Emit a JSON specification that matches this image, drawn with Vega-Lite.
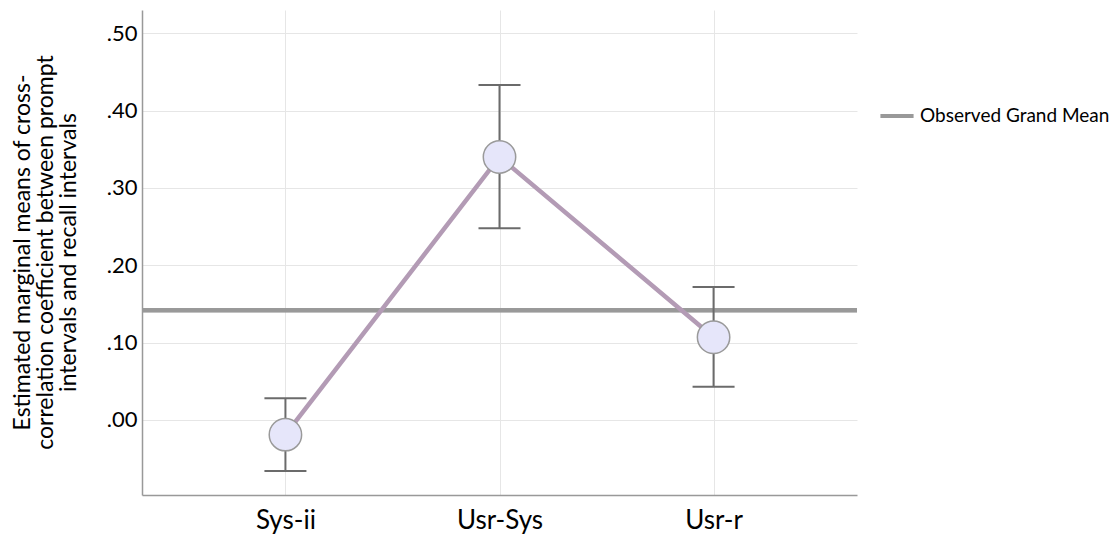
{
  "$schema": "https://vega.github.io/schema/vega-lite/v6.json",
  "width": 715,
  "height": 485,
  "autosize": {"type": "none"},
  "padding": {"left": 142, "top": 10, "right": 263, "bottom": 46},
  "background": "white",
  "config": {
    "font": "Lato",
    "view": {"stroke": null},
    "axis": {
      "labelFont": "Lato",
      "titleFont": "Lato",
      "labelFontSize": 22,
      "labelColor": "#000",
      "titleFontSize": 23,
      "titleFontWeight": "normal",
      "titleColor": "#000",
      "ticks": false,
      "grid": true,
      "gridColor": "#e6e6e6",
      "domainColor": "#999",
      "domainWidth": 1.5
    },
    "legend": {"labelFontSize": 19, "labelColor": "#000", "labelFont": "Lato", "labelLimit": 400}
  },
  "data": {
    "values": [
      {"group": "Sys-ii", "mean": -0.019, "lo": -0.066, "hi": 0.028, "grand": 0.142},
      {"group": "Usr-Sys", "mean": 0.340, "lo": 0.248, "hi": 0.433, "grand": 0.142},
      {"group": "Usr-r", "mean": 0.107, "lo": 0.043, "hi": 0.172, "grand": 0.142}
    ]
  },
  "encoding": {
    "x": {
      "field": "group",
      "type": "nominal",
      "sort": null,
      "scale": {"type": "point", "padding": 0.67},
      "axis": {
        "title": null,
        "labelAngle": 0,
        "labelFontSize": 26,
        "labelPadding": 12
      }
    },
    "y": {
      "field": "mean",
      "type": "quantitative",
      "scale": {"domain": [-0.097, 0.53], "nice": false, "zero": false},
      "axis": {
        "title": ["Estimated marginal means of cross-", "correlation coefficient between prompt", "intervals and recall intervals"],
        "titleX": -108,
        "titleY": 242,
        "titleLineHeight": 23,
        "titleLimit": 600,
        "values": [0, 0.1, 0.2, 0.3, 0.4, 0.5],
        "labelExpr": "replace(format(datum.value, '.2f'), '0.', '.')",
        "labelPadding": 5
      }
    }
  },
  "layer": [
    {
      "mark": {"type": "rule", "strokeWidth": 4},
      "encoding": {
        "x": null,
        "y": {"field": "grand", "type": "quantitative"},
        "color": {
          "datum": "Observed Grand Mean",
          "type": "nominal",
          "scale": {"range": ["#999999"]},
          "legend": {
            "title": null,
            "orient": "none",
            "legendX": 736,
            "legendY": 87,
            "symbolType": "stroke",
            "symbolStrokeWidth": 4,
            "symbolSize": 1100
          }
        }
      }
    },
    {
      "mark": {"type": "line", "strokeWidth": 4.5, "color": "#b39bb5"},
      "encoding": {}
    },
    {
      "mark": {"type": "rule", "strokeWidth": 2, "color": "#6b6b6b"},
      "encoding": {
        "y": {"field": "lo", "type": "quantitative"},
        "y2": {"field": "hi"}
      }
    },
    {
      "mark": {"type": "tick", "orient": "horizontal", "size": 42, "thickness": 2, "color": "#6b6b6b", "opacity": 1},
      "encoding": {"y": {"field": "lo", "type": "quantitative"}}
    },
    {
      "mark": {"type": "tick", "orient": "horizontal", "size": 42, "thickness": 2, "color": "#6b6b6b", "opacity": 1},
      "encoding": {"y": {"field": "hi", "type": "quantitative"}}
    },
    {
      "mark": {"type": "point", "filled": true, "shape": "circle", "size": 1050, "fill": "#e6e6fa", "stroke": "#9a9a9a", "strokeWidth": 1.5, "opacity": 1},
      "encoding": {}
    }
  ]
}
